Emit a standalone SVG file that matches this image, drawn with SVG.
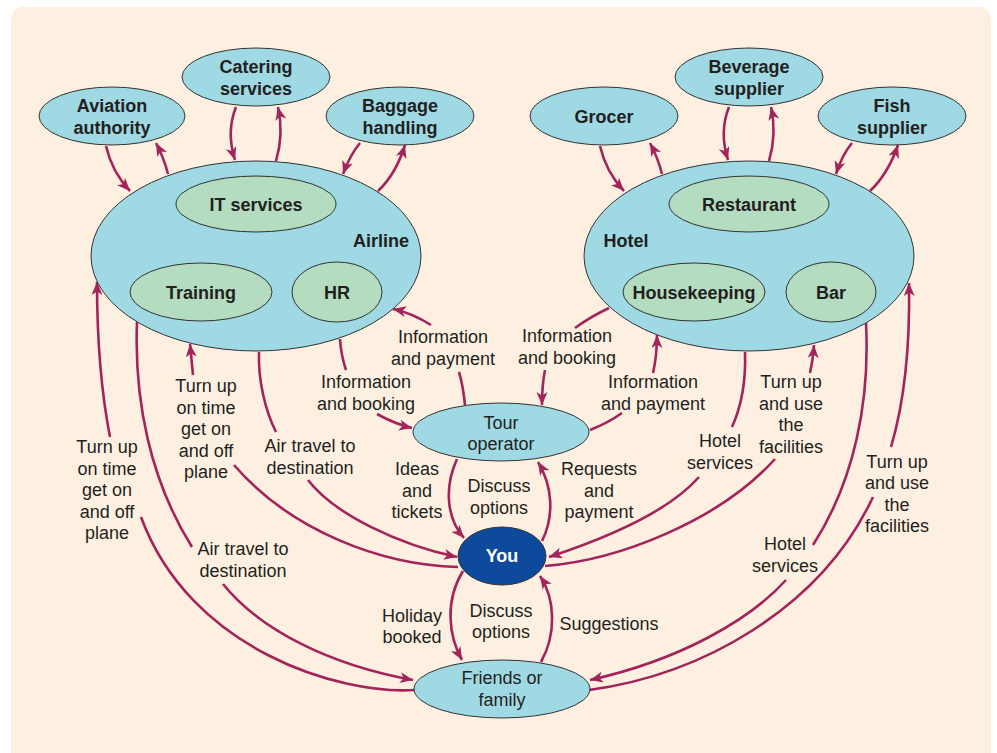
<svg xmlns="http://www.w3.org/2000/svg" width="997" height="753" viewBox="0 0 997 753">
<defs>
<marker id="ah" markerUnits="userSpaceOnUse" markerWidth="14" markerHeight="12" refX="13" refY="5.5" orient="auto">
<path d="M0,0 L13,5.5 L0,11 L3.5,5.5 z" fill="#a3235b"/>
</marker>
<style>
.bg{fill:#fdf0e1}
.n{fill:#9fd9e4;stroke:#333;stroke-width:1}
.g{fill:#b3dcc0;stroke:#333;stroke-width:1}
.you{fill:#0e4a9c;stroke:#333;stroke-width:1}
.t{font-family:"Liberation Sans",Arial,sans-serif;font-size:18px;fill:#231f20;text-anchor:middle}
.b{font-weight:bold}
.w{fill:#ffffff}
.c{fill:none;stroke:#a3235b;stroke-width:2.6}
.a{marker-end:url(#ah)}
</style>
</defs>
<rect x="0" y="0" width="997" height="753" fill="#ffffff"/>
<rect class="bg" x="11" y="7" width="980" height="760" rx="12"/>

<g id="connectors">
<path class="c a" d="M106,146 Q112,172 130,191"/>
<path class="c a" d="M168,174 Q164,158 156,143"/>
<path class="c a" d="M236,107 Q226,132 235,160"/>
<path class="c a" d="M276,161 Q284,134 278,107"/>
<path class="c a" d="M360,143 Q350,155 343,174"/>
<path class="c a" d="M378,191 Q396,174 405,145"/>
<path class="c a" d="M600,146 Q606,172 624,191"/>
<path class="c a" d="M662,174 Q658,158 650,143"/>
<path class="c a" d="M729,107 Q719,132 728,160"/>
<path class="c a" d="M769,161 Q777,134 771,107"/>
<path class="c a" d="M852,143 Q842,155 836,174"/>
<path class="c a" d="M870,191 Q888,174 898,145"/>
<path class="c" d="M415,690 C340,695 190,650 141,517"/>
<path class="c a" d="M110,437 Q97,370 97,282"/>
<path class="c" d="M137,322 C134,400 150,480 192,547"/>
<path class="c a" d="M223,584 C260,630 330,665 413,680"/>
<path class="c" d="M458,567 C380,565 290,530 234,465"/>
<path class="c a" d="M193,375 L190,344"/>
<path class="c" d="M259,352 C258,380 265,410 276,432"/>
<path class="c a" d="M308,480 C335,515 400,545 457,557"/>
<path class="c" d="M340,339 Q341,355 346,370"/>
<path class="c a" d="M377,414 Q395,424 412,428"/>
<path class="c" d="M465,405 Q463,385 459,372"/>
<path class="c a" d="M431,325 Q412,313 393,309"/>
<path class="c" d="M609,308 Q590,317 575,328"/>
<path class="c a" d="M545,370 Q542,385 542,405"/>
<path class="c" d="M590,430 Q608,423 622,413"/>
<path class="c a" d="M653,373 Q657,356 657,335"/>
<path class="c" d="M745,352 C746,380 742,405 732,427"/>
<path class="c a" d="M699,477 C670,510 610,537 549,557"/>
<path class="c" d="M545,566 C620,560 720,520 775,459"/>
<path class="c a" d="M810,373 Q813,360 814,345"/>
<path class="c" d="M866,323 C870,400 855,480 813,545"/>
<path class="c a" d="M786,580 C750,620 680,660 590,680"/>
<path class="c" d="M589,690 C700,675 820,610 873,497"/>
<path class="c a" d="M891,447 C905,400 910,340 909,283"/>
<path class="c a" d="M457,459 C443,490 448,520 464,538"/>
<path class="c a" d="M542,541 C555,515 552,485 538,462"/>
<path class="c a" d="M463,571 C445,600 448,635 462,660"/>
<path class="c a" d="M541,662 C556,635 556,600 540,576"/>
</g>

<g id="labels">
<text class="t" x="443"><tspan x="443" y="343">Information</tspan><tspan x="443" y="365">and payment</tspan></text>
<text class="t"><tspan x="366" y="388">Information</tspan><tspan x="366" y="410">and booking</tspan></text>
<text class="t"><tspan x="206" y="392">Turn up</tspan><tspan x="206" y="413.5">on time</tspan><tspan x="206" y="435">get on</tspan><tspan x="206" y="456.5">and off</tspan><tspan x="206" y="478">plane</tspan></text>
<text class="t"><tspan x="107" y="453">Turn up</tspan><tspan x="107" y="474.5">on time</tspan><tspan x="107" y="496">get on</tspan><tspan x="107" y="517.5">and off</tspan><tspan x="107" y="539">plane</tspan></text>
<text class="t"><tspan x="310" y="452">Air travel to</tspan><tspan x="310" y="473.5">destination</tspan></text>
<text class="t"><tspan x="243" y="555">Air travel to</tspan><tspan x="243" y="577">destination</tspan></text>
<text class="t"><tspan x="417" y="475">Ideas</tspan><tspan x="417" y="496.5">and</tspan><tspan x="417" y="518">tickets</tspan></text>
<text class="t"><tspan x="499" y="492">Discuss</tspan><tspan x="499" y="513.5">options</tspan></text>
<text class="t"><tspan x="599" y="475">Requests</tspan><tspan x="599" y="496.5">and</tspan><tspan x="599" y="518">payment</tspan></text>
<text class="t"><tspan x="412" y="622">Holiday</tspan><tspan x="412" y="643">booked</tspan></text>
<text class="t"><tspan x="501" y="617">Discuss</tspan><tspan x="501" y="638">options</tspan></text>
<text class="t" x="609" y="630">Suggestions</text>
<text class="t"><tspan x="567" y="342">Information</tspan><tspan x="567" y="364">and booking</tspan></text>
<text class="t"><tspan x="653" y="388">Information</tspan><tspan x="653" y="410">and payment</tspan></text>
<text class="t"><tspan x="720" y="447">Hotel</tspan><tspan x="720" y="469">services</tspan></text>
<text class="t"><tspan x="791" y="388">Turn up</tspan><tspan x="791" y="409.7">and use</tspan><tspan x="791" y="431.3">the</tspan><tspan x="791" y="453">facilities</tspan></text>
<text class="t"><tspan x="785" y="550">Hotel</tspan><tspan x="785" y="572">services</tspan></text>
<text class="t"><tspan x="897" y="468">Turn up</tspan><tspan x="897" y="489.3">and use</tspan><tspan x="897" y="510.7">the</tspan><tspan x="897" y="532">facilities</tspan></text>
</g>

<g id="airline">
<ellipse class="n" cx="256" cy="256" rx="165" ry="95"/>
<text class="t b" x="381" y="247">Airline</text>
</g>
<g id="it-services"><ellipse class="g" cx="256" cy="204" rx="80" ry="28"/><text class="t b" x="256" y="211">IT services</text></g>
<g id="training"><ellipse class="g" cx="201" cy="292" rx="71" ry="29"/><text class="t b" x="201" y="299">Training</text></g>
<g id="hr"><ellipse class="g" cx="337" cy="292" rx="45" ry="30"/><text class="t b" x="337" y="299">HR</text></g>
<g id="aviation-authority"><ellipse class="n" cx="112" cy="116" rx="73" ry="29"/><text class="t b"><tspan x="112" y="112">Aviation</tspan><tspan x="112" y="134">authority</tspan></text></g>
<g id="catering-services"><ellipse class="n" cx="256" cy="77" rx="74" ry="29"/><text class="t b"><tspan x="256" y="73">Catering</tspan><tspan x="256" y="95">services</tspan></text></g>
<g id="baggage-handling"><ellipse class="n" cx="400" cy="116" rx="74" ry="29"/><text class="t b"><tspan x="400" y="112">Baggage</tspan><tspan x="400" y="134">handling</tspan></text></g>

<g id="hotel">
<ellipse class="n" cx="749" cy="256" rx="165" ry="95"/>
<text class="t b" x="626" y="247">Hotel</text>
</g>
<g id="restaurant"><ellipse class="g" cx="749" cy="204" rx="80" ry="28"/><text class="t b" x="749" y="211">Restaurant</text></g>
<g id="housekeeping"><ellipse class="g" cx="694" cy="292" rx="71" ry="29"/><text class="t b" x="694" y="299">Housekeeping</text></g>
<g id="bar"><ellipse class="g" cx="831" cy="292" rx="45" ry="30"/><text class="t b" x="831" y="299">Bar</text></g>
<g id="grocer"><ellipse class="n" cx="604" cy="116" rx="74" ry="29"/><text class="t b" x="604" y="123">Grocer</text></g>
<g id="beverage-supplier"><ellipse class="n" cx="749" cy="77" rx="74" ry="29"/><text class="t b"><tspan x="749" y="73">Beverage</tspan><tspan x="749" y="95">supplier</tspan></text></g>
<g id="fish-supplier"><ellipse class="n" cx="892" cy="116" rx="74" ry="29"/><text class="t b"><tspan x="892" y="112">Fish</tspan><tspan x="892" y="134">supplier</tspan></text></g>

<g id="tour-operator"><ellipse class="n" cx="501" cy="432" rx="88" ry="29"/><text class="t"><tspan x="501" y="429">Tour</tspan><tspan x="501" y="450">operator</tspan></text></g>
<g id="you"><ellipse class="you" cx="502" cy="556" rx="44" ry="29"/><text class="t b w" x="502" y="562">You</text></g>
<g id="friends-or-family"><ellipse class="n" cx="502" cy="689" rx="88" ry="29"/><text class="t"><tspan x="502" y="684">Friends or</tspan><tspan x="502" y="706">family</tspan></text></g>
</svg>
